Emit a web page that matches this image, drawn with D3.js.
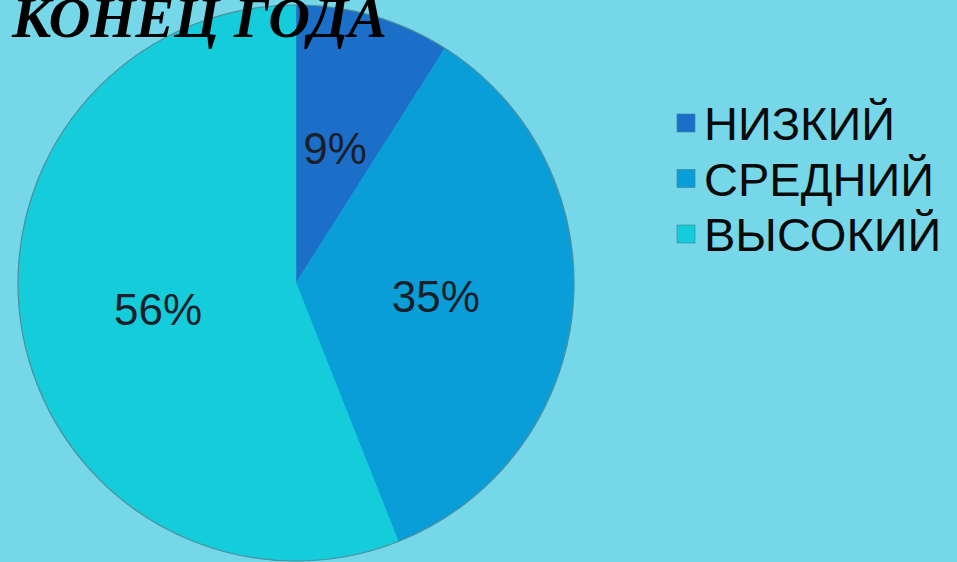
<!DOCTYPE html>
<html><head><meta charset="utf-8">
<script src="https://cdn.jsdelivr.net/npm/d3@7"></script>
<style>
html,body{margin:0;padding:0;background:#76d7e8;overflow:hidden;}
svg{display:block;}
</style></head>
<body>
<svg id="chart" width="957" height="562"></svg>
<script>
const title = "КОНЕЦ ГОДА";
const categories = ["НИЗКИЙ", "СРЕДНИЙ", "ВЫСОКИЙ"];
const values = [9, 35, 56];
const colors = ["#1c6fc8", "#0a9ed9", "#14ccda"];

const svg = d3.select("#chart");
const W = 957, H = 562;
svg.append("rect").attr("width", W).attr("height", H).attr("fill", "#76d7e8");

const cx = 296, cy = 283, R = 278;
const pie = d3.pie().sort(null).value(d => d)(values);
const arc = d3.arc().innerRadius(0).outerRadius(R);
const labelArc = d3.arc().innerRadius(R * 0.505).outerRadius(R * 0.505);
const total = d3.sum(values);

const g = svg.append("g").attr("transform", `translate(${cx},${cy})`);
g.selectAll("path.slice").data(pie).enter().append("path")
  .attr("class", "slice")
  .attr("d", arc)
  .attr("fill", (d, i) => colors[i])
  .attr("stroke", (d, i) => colors[i])
  .attr("stroke-width", 0.5);
g.append("circle").attr("r", R).attr("fill", "none")
  .attr("stroke", "#4f8f9c").attr("stroke-width", 1.2);

g.selectAll("text.lbl").data(pie).enter().append("text")
  .attr("class", "lbl")
  .attr("transform", d => `translate(${labelArc.centroid(d)})`)
  .attr("text-anchor", "middle")
  .attr("dominant-baseline", "central")
  .attr("font-family", "Liberation Sans, Arial, sans-serif")
  .attr("font-size", 44)
  .attr("fill", "#1a1f2a")
  .text(d => Math.round(d.value / total * 100) + "%");

// title (on top of pie)
svg.append("text")
  .attr("x", 12).attr("y", 37)
  .attr("font-family", "Liberation Serif, Times New Roman, serif")
  .attr("font-weight", "bold").attr("font-style", "italic")
  .attr("font-size", 58)
  .attr("fill", "#000")
  .text(title);

// legend
const leg = svg.append("g").attr("transform", "translate(677,114)");
const rowH = 55.5;
const item = leg.selectAll("g.item").data(categories).enter().append("g")
  .attr("class", "item")
  .attr("transform", (d, i) => `translate(0,${i * rowH})`);
item.append("rect").attr("width", 18).attr("height", 18)
  .attr("fill", (d, i) => colors[i])
  .attr("stroke", "#3f7f95").attr("stroke-width", 0.6);
item.append("text")
  .attr("x", 27).attr("y", 26)
  .attr("font-family", "Liberation Sans, Arial, sans-serif")
  .attr("font-size", 47)
  .attr("fill", "#0a0a0a")
  .text(d => d);
</script>
</body></html>
